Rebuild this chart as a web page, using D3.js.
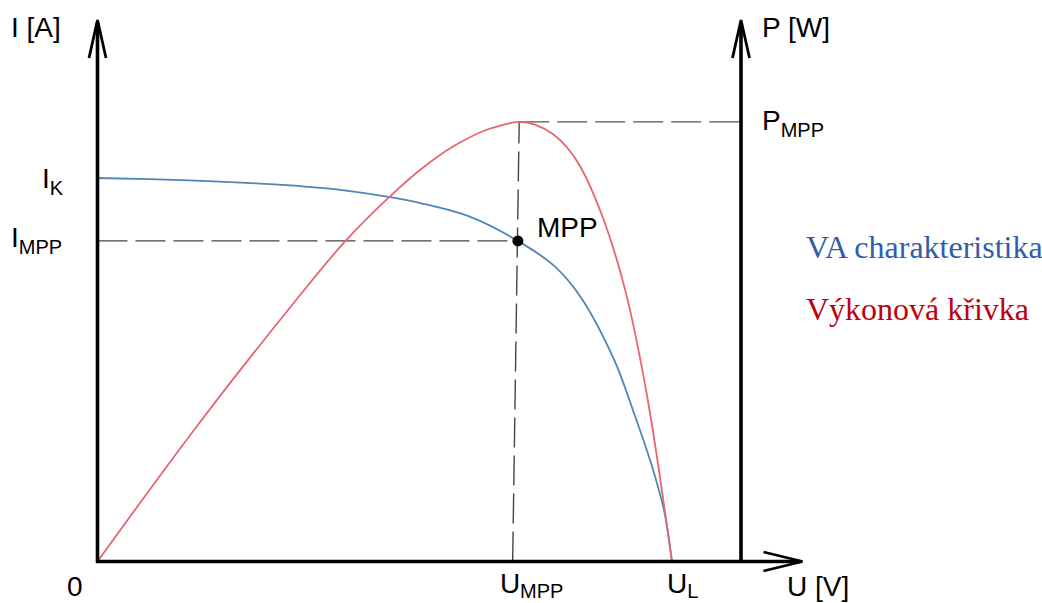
<!DOCTYPE html>
<html>
<head>
<meta charset="utf-8">
<script src="https://cdn.jsdelivr.net/npm/d3@7"></script>
<style>
  html, body { margin: 0; padding: 0; background: #fff; }
  svg { display: block; }
  .lbl { font-family: "Liberation Sans", Arial, sans-serif; fill: #000; }
  .legend { font-family: "Liberation Serif", "Times New Roman", serif; }
</style>
</head>
<body>
<svg id="chart" width="1042" height="603"></svg>
<script>
// I-V characteristic of a PV cell (voltage in V, current in A)
const voltage = [0, 3.5, 6.1, 8.6, 11.2, 12.4, 14.3, 16.1, 17.5, 18.5, 19.8, 20.5, 21.2, 21.7, 22.0];
const current = [5.00, 4.97, 4.93, 4.87, 4.75, 4.67, 4.49, 4.18, 3.85, 3.45, 2.62, 1.98, 1.28, 0.66, 0];

// Power curve (voltage in V, power in W)
const powerVoltage = [0, 3.9, 7.6, 9.5, 11.2, 12.4, 13.6, 14.9, 15.5, 16.1, 16.8, 17.45, 18.0, 18.5, 19.35, 20.2, 21.05, 22.0];
const power = [0, 21.2, 40.0, 49.1, 55.9, 60.1, 63.5, 66.1, 66.8, 67.3, 66.8, 65.4, 63.3, 60.4, 52.7, 41.7, 25.3, 0];

// Characteristic points
const iK = 5.0;      // short-circuit current
const uL = 22.0;     // open-circuit voltage
const uMpp = 16.1;   // voltage at maximum power point
const iMpp = 4.18;   // current at maximum power point
const pMpp = 67.3;   // maximum power
// Vertical MPP guide runs from the U axis (lower end) up to the power peak
const mppGuideU = [15.9, 16.15];

// Axis captions and point labels
const axisNames = { current: "I [A]", power: "P [W]", voltage: "U [V]" };
const pointLabels = { origin: "0", mpp: "MPP" };
const legendNames = ["VA charakteristika", "Výkonová křivka"];

const svg = d3.select("#chart");

const x = d3.scaleLinear().domain([0, 27]).range([97.5, 802.5]);
const yI = d3.scaleLinear().domain([0, 7.06]).range([561.5, 20]);
const yP = d3.scaleLinear().domain([0, 82.9]).range([561.5, 20]);

const x0 = x(0), y0 = yI(0);
const xRight = 741;          // power axis position
const axisTop = yI.range()[1];
const axisEnd = x.range()[1];

const blueLine = "#4f86b8";
const redLine = "#e66670";
const guide = "#444";

// dashed guide lines
const dash = "30,8";
svg.append("line")
  .attr("x1", x0).attr("y1", yI(iMpp))
  .attr("x2", x(uMpp)).attr("y2", yI(iMpp))
  .attr("stroke", guide).attr("stroke-width", 1.4).attr("stroke-dasharray", dash);
svg.append("line")
  .attr("x1", x(mppGuideU[0])).attr("y1", y0)
  .attr("x2", x(mppGuideU[1])).attr("y2", yP(pMpp))
  .attr("stroke", guide).attr("stroke-width", 1.4).attr("stroke-dasharray", dash);
svg.append("line")
  .attr("x1", x(mppGuideU[1])).attr("y1", yP(pMpp))
  .attr("x2", xRight).attr("y2", yP(pMpp))
  .attr("stroke", "#555").attr("stroke-width", 1.4).attr("stroke-dasharray", dash);

// curves
const ivLine = d3.line()
  .x((d, i) => x(voltage[i]))
  .y((d, i) => yI(current[i]))
  .curve(d3.curveCatmullRom.alpha(0.5));
svg.append("path")
  .attr("d", ivLine(voltage))
  .attr("fill", "none").attr("stroke", blueLine).attr("stroke-width", 1.8);

const pLine = d3.line()
  .x((d, i) => x(powerVoltage[i]))
  .y((d, i) => yP(power[i]))
  .curve(d3.curveCatmullRom.alpha(0.5));
svg.append("path")
  .attr("d", pLine(powerVoltage))
  .attr("fill", "none").attr("stroke", redLine).attr("stroke-width", 1.8);

// axes
const axisStroke = { stroke: "#000", width: 3.6 };
svg.append("line")
  .attr("x1", x0).attr("y1", y0 + 1.5).attr("x2", x0).attr("y2", axisTop + 2)
  .attr("stroke", axisStroke.stroke).attr("stroke-width", axisStroke.width);
svg.append("line")
  .attr("x1", x0 - 1.5).attr("y1", y0).attr("x2", axisEnd - 2).attr("y2", y0)
  .attr("stroke", axisStroke.stroke).attr("stroke-width", axisStroke.width);
svg.append("line")
  .attr("x1", xRight).attr("y1", y0).attr("x2", xRight).attr("y2", axisTop + 2)
  .attr("stroke", axisStroke.stroke).attr("stroke-width", axisStroke.width);

// open arrow heads
function arrow(points) {
  svg.append("path")
    .attr("d", d3.line()(points))
    .attr("fill", "none").attr("stroke", "#000")
    .attr("stroke-width", 2.8).attr("stroke-linejoin", "miter").attr("stroke-linecap", "butt");
}
arrow([[x0 - 8.5, axisTop + 38], [x0, axisTop], [x0 + 8.5, axisTop + 38]]);
arrow([[xRight - 8.5, axisTop + 38], [xRight, axisTop], [xRight + 8.5, axisTop + 38]]);
arrow([[axisEnd - 39, y0 - 9.5], [axisEnd, y0], [axisEnd - 39, y0 + 9.5]]);

// MPP point
svg.append("circle")
  .attr("cx", x(uMpp)).attr("cy", yI(iMpp)).attr("r", 5.5).attr("fill", "#000");

// text helpers
const fs = 28, sub = 20;
function label(px, py, main, subText, subShift) {
  const t = svg.append("text").attr("class", "lbl")
    .attr("x", px).attr("y", py).attr("font-size", fs);
  t.append("tspan").text(main);
  if (subText) {
    t.append("tspan").attr("font-size", sub).attr("dy", subShift || 7).text(subText);
  }
  return t;
}

label(11, 37, axisNames.current);
label(762, 37, axisNames.power);
label(787, 596, axisNames.voltage);
label(67, 596, pointLabels.origin);
label(537, yI(iMpp) - 4, pointLabels.mpp);

label(42, yI(iK) + 10, "I", "K");
label(11, yI(iMpp) + 6, "I", "MPP");
label(762, yP(pMpp) + 8, "P", "MPP");
label(x(uMpp) - 18, 593, "U", "MPP", 5);
label(x(uL) - 5, 593, "U", "L", 5);

// legend
const legendColors = ["#2f5ea8", "#c00010"];
svg.selectAll("text.legend")
  .data(legendNames)
  .join("text")
  .attr("class", "legend")
  .attr("x", 806)
  .attr("y", (d, i) => 258 + i * 62)
  .attr("font-size", 32)
  .attr("fill", (d, i) => legendColors[i])
  .text(d => d);
</script>
</body>
</html>
